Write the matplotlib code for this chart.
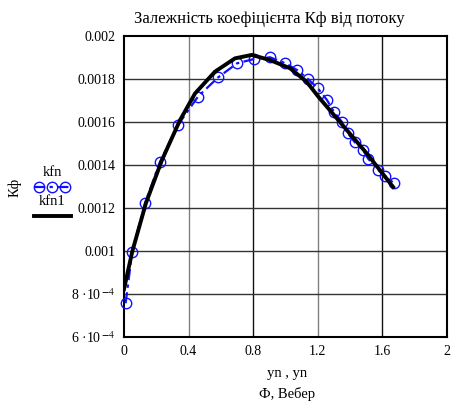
import matplotlib
matplotlib.use("Agg")
import matplotlib.pyplot as plt

plt.rcParams['font.family'] = ['Liberation Serif', 'DejaVu Serif']
plt.rcParams['mathtext.fontset'] = 'stix'

# kfn: measured points (blue circles)
kfn_x = [0.010, 0.051, 0.130, 0.223, 0.334, 0.458, 0.582, 0.700, 0.805, 0.904,
         0.997, 1.071, 1.139, 1.201, 1.257, 1.300, 1.350, 1.387, 1.430, 1.480,
         1.511, 1.573, 1.616, 1.672]
kfn_y = [0.000757, 0.000997, 0.001222, 0.001415, 0.001586, 0.001718, 0.001807,
         0.001873, 0.001893, 0.001901, 0.001874, 0.001842, 0.001800, 0.001756,
         0.001702, 0.001647, 0.001600, 0.001547, 0.001505, 0.001470, 0.001430,
         0.001377, 0.001349, 0.001315]

# kfn1: approximation (black line)
kfn1_x = [0.0, 0.051, 0.136, 0.235, 0.347, 0.440, 0.563, 0.687, 0.791, 0.904,
          1.028, 1.131, 1.203, 1.337, 1.503, 1.666]
kfn1_y = [0.000823, 0.000997, 0.001223, 0.001423, 0.001609, 0.001733, 0.001834,
          0.001896, 0.001912, 0.001888, 0.001850, 0.001787, 0.001718, 0.001600,
          0.001454, 0.001298]

xticks = [0, 0.4, 0.8, 1.2, 1.6, 2]
xtick_labels = ['0', '0.4', '0.8', '1.2', '1.6', '2']
yticks = [0.0006, 0.0008, 0.0010, 0.0012, 0.0014, 0.0016, 0.0018, 0.0020]
ytick_labels = ['6 ·10$^{\\,\\mathbf{-}4}$', '8 ·10$^{\\,\\mathbf{-}4}$', '0.001', '0.0012', '0.0014',
                '0.0016', '0.0018', '0.002']

W, H = 451, 403
fig = plt.figure(figsize=(W / 100, H / 100), dpi=100)
ax = fig.add_axes([124 / W, 1 - 337 / H, (447 - 124) / W, (337 - 36) / H])

ax.set_xlim(0, 2)
ax.set_ylim(0.0006, 0.002)

# grid
for i, xv in enumerate(xticks[1:-1]):
    ax.axvline(xv, color='#808080' if i % 2 == 0 else '#111111', lw=1.0, zorder=0)
for yv in yticks[1:-1]:
    ax.axhline(yv, color='#333333', lw=1.0, zorder=0)

ax.plot(kfn_x, kfn_y, color='#1010ff', lw=1.6, linestyle=(0, (5, 2, 1.5, 2)),
        marker='o', markersize=7.5, markerfacecolor='none',
        markeredgecolor='#1010ff', markeredgewidth=1.0, zorder=3, clip_on=False)
ax.plot(kfn1_x, kfn1_y, color='black', lw=2.8, zorder=4, solid_joinstyle='miter')

ax.set_xticks(xticks)
ax.set_xticklabels(xtick_labels, fontsize=10)
ax.set_yticks(yticks)
ax.set_yticklabels(ytick_labels, fontsize=10)
ax.tick_params(length=0, pad=6)
for s in ax.spines.values():
    s.set_linewidth(1.5)
    s.set_color('black')

fig.text(269 / W, 1 - 19 / H, 'Залежність коефіцієнта Кф від потоку',
         ha='center', va='center', fontsize=12)
fig.text(287 / W, 1 - 374 / H, 'yn , yn', ha='center', va='center', fontsize=10.5)
fig.text(287 / W, 1 - 394 / H, 'Ф, Вебер', ha='center', va='center', fontsize=10.5)
fig.text(15 / W, 1 - 187 / H, 'Кф', ha='center', va='center', rotation=90, fontsize=10.5)

# legend
fig.text(52 / W, 1 - 172 / H, 'kfn', ha='center', va='center', fontsize=10.5)
fig.text(52 / W, 1 - 202 / H, 'kfn1', ha='center', va='center', fontsize=10.5)
fig.lines.append(plt.Line2D([34 / W, 71 / W], [1 - 187 / H] * 2, transform=fig.transFigure,
                            color='#1010ff', lw=1.6, linestyle=(0, (5, 2, 1.5, 2))))
fig.lines.append(plt.Line2D([39 / W, 52 / W, 65 / W], [1 - 187 / H] * 3, transform=fig.transFigure,
                            color='none', marker='o', markersize=7.5, markerfacecolor='none',
                            markeredgecolor='#1010ff', markeredgewidth=1.0))
fig.lines.append(plt.Line2D([34 / W, 71 / W], [1 - 216 / H] * 2, transform=fig.transFigure,
                            color='black', lw=2.8))

fig.savefig('out.png', dpi=100)
